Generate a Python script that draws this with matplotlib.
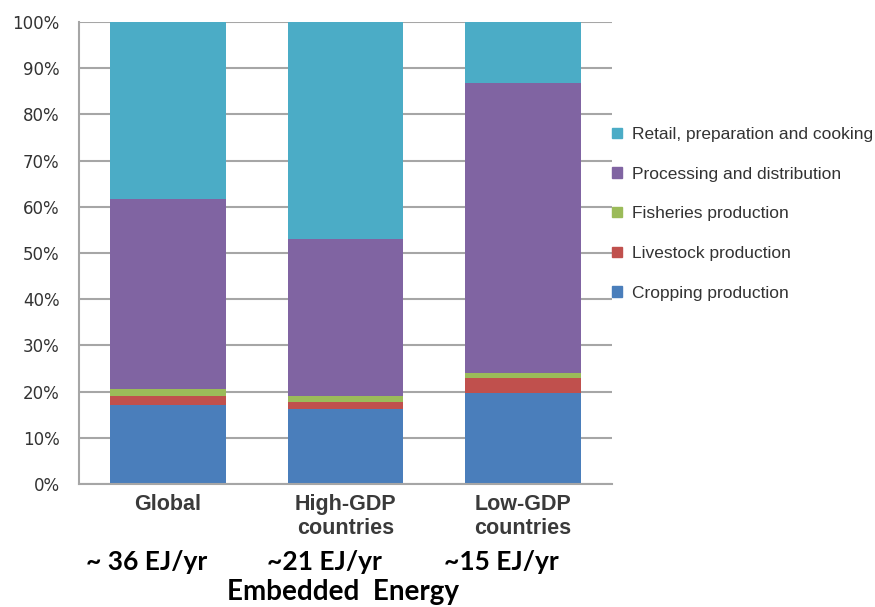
import numpy as np
import matplotlib.pyplot as plt
from matplotlib.patches import Patch

# Data (percent share of embedded energy)
regions = ['Global', 'High-GDP\ncountries', 'Low-GDP\ncountries']
totals = ['~ 36 EJ/yr', '~21 EJ/yr', '~15 EJ/yr']
stages = ['Cropping production', 'Livestock production', 'Fisheries production',
          'Processing and distribution', 'Retail, preparation and cooking']
cropping = [17.0, 16.2, 19.8]
livestock = [2.0, 1.5, 3.1]
fisheries = [1.5, 1.3, 1.1]
processing = [41.2, 34.0, 62.8]
retail = [38.3, 47.0, 13.2]

colors = ['#4a7ebb', '#c0504d', '#9bbb59', '#8064a2', '#4bacc6']

fig = plt.figure(figsize=(8.75, 6.07), dpi=100)
ax = fig.add_axes([0.0903, 0.2026, 0.6091, 0.7612])

x = np.arange(len(regions))
bottom = np.zeros(len(regions))
for vals, c in zip([cropping, livestock, fisheries, processing, retail], colors):
    ax.bar(x, vals, 0.65, bottom=bottom, color=c, zorder=2)
    bottom += np.array(vals)

ax.set_xlim(-0.5, 2.5)
ax.set_ylim(0, 100)
ax.set_yticks(np.arange(0, 101, 10))
ax.set_yticklabels([f'{v}%' for v in range(0, 101, 10)], fontsize=12, color='#333333')
ax.yaxis.grid(True, color='#a6a6a6', linewidth=1.5, zorder=0)
ax.set_axisbelow(True)
ax.tick_params(axis='y', length=0, pad=14)
ax.set_xticks(x)
ax.set_xticklabels(regions, fontsize=15.5, fontweight='bold', color='#3a3a3a',
                   family='Liberation Sans', linespacing=1.2)
ax.tick_params(axis='x', length=0, pad=7)
for s in ['top', 'right']:
    ax.spines[s].set_visible(False)
ax.spines['left'].set_color('#a6a6a6')
ax.spines['left'].set_linewidth(1.5)
ax.spines['bottom'].set_color('#a6a6a6')
ax.spines['bottom'].set_linewidth(1.5)

# legend outside on the right, top entry = top stack
handles = [Patch(color=c, label=l) for c, l in zip(colors, stages)][::-1]
leg = ax.legend(handles=handles, loc='center left', bbox_to_anchor=(1.0, 0.585),
                frameon=False, prop={'family': 'Liberation Sans', 'size': 12.5},
                handlelength=0.55, handleheight=0.55, handletextpad=0.6,
                labelspacing=1.42, borderpad=0, borderaxespad=0)
for t in leg.get_texts():
    t.set_color('#333333')

# energy totals below the categories
for xi, t in zip(x, totals):
    ax.text(xi - 0.12, -16.8, t, transform=ax.transData, ha='center', va='center',
            fontsize=19, fontweight='bold', family='Lato', clip_on=False)
fig.text(0.392, 0.024, 'Embedded  Energy', ha='center', va='center',
         fontsize=20, fontweight='bold', family='Lato')

fig.savefig('out.png', dpi=100)
